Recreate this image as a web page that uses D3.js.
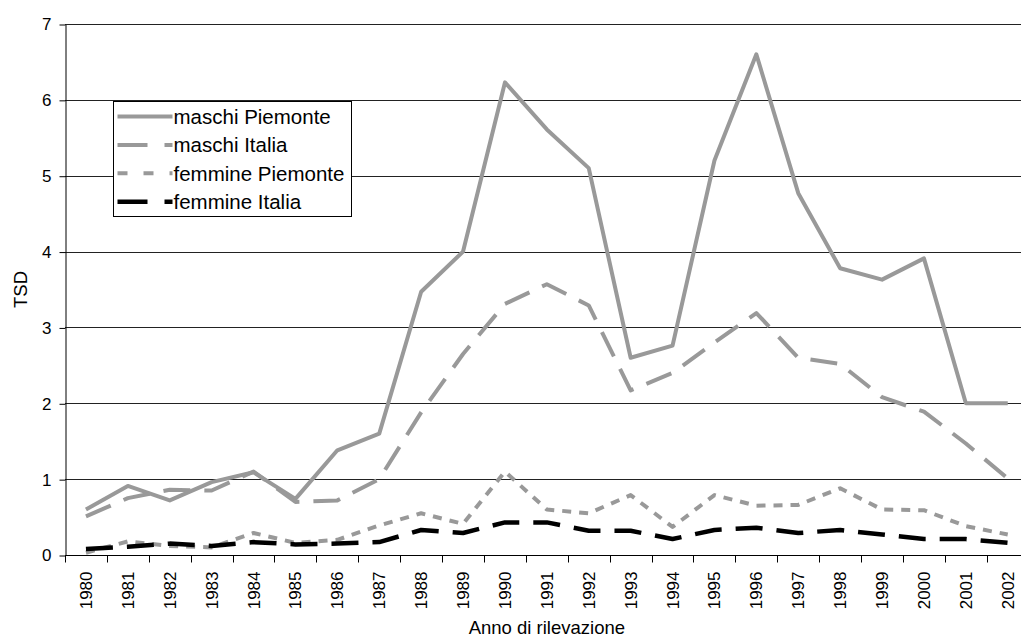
<!DOCTYPE html>
<html>
<head>
<meta charset="utf-8">
<script src="https://cdn.jsdelivr.net/npm/d3@7"></script>
<style>
  body { margin: 0; background: #fff; }
  svg { display: block; font-family: Arial, "Liberation Sans", sans-serif; }
</style>
</head>
<body>
<div id="chart"></div>
<script>
// Years on the x axis
var years = ["1980","1981","1982","1983","1984","1985","1986","1987","1988","1989","1990",
             "1991","1992","1993","1994","1995","1996","1997","1998","1999","2000","2001","2002"];

// Series values (TSD)
var maschiPiemonte  = [0.60,0.91,0.72,0.96,1.09,0.74,1.38,1.60,3.47,4.00,6.23,5.61,5.10,2.60,2.76,5.20,6.60,4.77,3.78,3.63,3.91,2.00,2.00];
var maschiItalia    = [0.51,0.75,0.86,0.85,1.10,0.70,0.72,1.00,1.88,2.65,3.31,3.57,3.29,2.17,2.40,2.80,3.19,2.60,2.52,2.08,1.89,1.47,1.01];
var femminePiemonte = [0.03,0.18,0.12,0.10,0.29,0.16,0.20,0.39,0.55,0.41,1.10,0.60,0.55,0.79,0.37,0.79,0.65,0.66,0.88,0.60,0.59,0.38,0.27];
var femmineItalia   = [0.08,0.11,0.15,0.12,0.17,0.14,0.15,0.17,0.33,0.29,0.43,0.43,0.32,0.32,0.21,0.33,0.36,0.29,0.33,0.27,0.21,0.21,0.16];

var seriesNames = ["maschi Piemonte", "maschi Italia", "femmine Piemonte", "femmine Italia"];
var yTicks = [0, 1, 2, 3, 4, 5, 6, 7];

var width = 1021, height = 637;
var plot = {left: 65, right: 65 + 23 * 41.9, top: 24, bottom: 555};

// line styles per series
var styles = [
  {color: "#999999", width: 4,   dash: null,    legendDash: null},
  {color: "#999999", width: 4,   dash: "27,14", legendDash: "30,17"},
  {color: "#999999", width: 4,   dash: "9,8",   legendDash: "10,16"},
  {color: "#000000", width: 4.5, dash: "27,14", legendDash: "30,17"}
];

var data = [maschiPiemonte, maschiItalia, femminePiemonte, femmineItalia].map(function(vals, i) {
  return {name: seriesNames[i], style: styles[i],
          values: vals.map(function(v, j) { return {year: years[j], value: v}; })};
});

var x = d3.scaleBand().domain(years).range([plot.left, plot.right]).padding(0);
var y = d3.scaleLinear().domain([0, 7]).range([plot.bottom, plot.top]);

var svg = d3.select("#chart").append("svg")
  .attr("width", width)
  .attr("height", height);

// horizontal gridlines
svg.append("g")
  .selectAll("line")
  .data(yTicks.filter(function(d) { return d > 0; }))
  .enter().append("line")
    .attr("x1", plot.left).attr("x2", plot.right)
    .attr("y1", function(d) { return Math.round(y(d)) + 0.5; })
    .attr("y2", function(d) { return Math.round(y(d)) + 0.5; })
    .attr("stroke", "#222")
    .attr("stroke-width", 1);

// y axis
var yAxis = svg.append("g")
  .attr("transform", "translate(" + (plot.left + 0.5) + ",0.5)")
  .call(d3.axisLeft(y).tickValues(yTicks).tickFormat(d3.format("d"))
          .tickSize(6).tickSizeOuter(0).tickPadding(8));
yAxis.select(".domain").attr("stroke", "#000");
yAxis.selectAll(".tick line").attr("stroke", "#000");
yAxis.selectAll("text").attr("font-size", "17px").attr("fill", "#000").attr("font-family", null);

// x axis: labels at band centres, ticks at band edges
var xAxis = svg.append("g")
  .attr("transform", "translate(0," + (Math.round(plot.bottom) + 0.5) + ")")
  .call(d3.axisBottom(x).tickSize(0).tickPadding(0));
xAxis.select(".domain").attr("stroke", "#000").attr("d", "M" + plot.left + ",0H" + plot.right);
xAxis.selectAll("text")
  .attr("font-size", "17px")
  .attr("fill", "#000")
  .attr("font-family", null)
  .attr("text-anchor", "end")
  .attr("dy", null)
  .attr("transform", "translate(6,16) rotate(-90)");

svg.append("g")
  .attr("transform", "translate(0," + (Math.round(plot.bottom) + 0.5) + ")")
  .selectAll("line")
  .data(years.concat(["end"]))
  .enter().append("line")
    .attr("x1", function(d) { return Math.round(d === "end" ? plot.right : x(d)) + 0.5; })
    .attr("x2", function(d) { return Math.round(d === "end" ? plot.right : x(d)) + 0.5; })
    .attr("y1", 0).attr("y2", 7)
    .attr("stroke", "#000");

// axis titles
svg.append("text")
  .attr("x", (plot.left + plot.right) / 2)
  .attr("y", 634)
  .attr("text-anchor", "middle")
  .attr("font-size", "18.5px")
  .text("Anno di rilevazione");

svg.append("text")
  .attr("transform", "translate(27," + ((plot.top + plot.bottom) / 2) + ") rotate(-90)")
  .attr("text-anchor", "middle")
  .attr("font-size", "18.5px")
  .text("TSD");

// series lines
var line = d3.line()
  .x(function(d) { return x(d.year) + x.bandwidth() / 2; })
  .y(function(d) { return y(d.value); });

svg.append("g")
  .selectAll("path")
  .data(data)
  .enter().append("path")
    .attr("d", function(d) { return line(d.values); })
    .attr("fill", "none")
    .attr("stroke", function(d) { return d.style.color; })
    .attr("stroke-width", function(d) { return d.style.width; })
    .attr("stroke-dasharray", function(d) { return d.style.dash; })
    .attr("stroke-linejoin", "round");

// legend
var legend = svg.append("g").attr("transform", "translate(113.5,101.5)");
legend.append("rect")
  .attr("width", 238).attr("height", 115)
  .attr("fill", "#fff").attr("stroke", "#000").attr("stroke-width", 1);

var item = legend.selectAll(".item")
  .data(data)
  .enter().append("g")
    .attr("class", "item")
    .attr("transform", function(d, i) { return "translate(0," + (15 + i * 28.4) + ")"; });

item.append("line")
  .attr("x1", 4).attr("x2", 59)
  .attr("stroke", function(d) { return d.style.color; })
  .attr("stroke-width", function(d) { return d.style.width; })
  .attr("stroke-dasharray", function(d) { return d.style.legendDash; });

item.append("text")
  .attr("x", 60)
  .attr("y", 7.5)
  .attr("font-size", "20.5px")
  .attr("fill", "#000")
  .text(function(d) { return d.name; });
</script>
</body>
</html>
